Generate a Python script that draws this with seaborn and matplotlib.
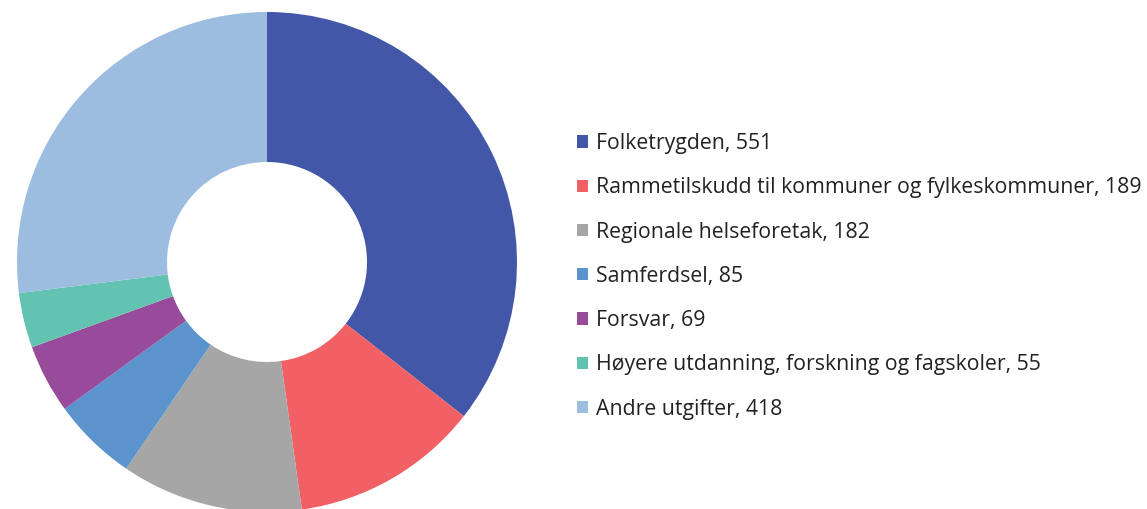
import matplotlib
matplotlib.use("Agg")
import matplotlib.pyplot as plt
from matplotlib.patches import Patch
import seaborn as sns

sns.set_theme(style="white")
plt.rcParams['font.family'] = ['Open Sans', 'DejaVu Sans']

categories = ["Folketrygden", "Rammetilskudd til kommuner og fylkeskommuner",
              "Regionale helseforetak", "Samferdsel", "Forsvar",
              "Høyere utdanning, forskning og fagskoler", "Andre utgifter"]
values = [551, 189, 182, 85, 69, 55, 418]
colors = ["#4257A7", "#F06065", "#A6A6A6", "#5B93CD", "#984B9A", "#62C4B0", "#9DBDE0"]

fig = plt.figure(figsize=(11.47, 5.09), dpi=100)
ax = fig.add_axes([(267 - 250) / 1147, (247 - 250) / 509, 500 / 1147, 500 / 509])
wedges, _ = ax.pie(values, colors=colors, startangle=90, counterclock=False,
                   wedgeprops=dict(width=0.6, edgecolor="none", linewidth=0))
for w in wedges:
    w.set_clip_on(False)
ax.set_xlim(-1, 1)
ax.set_ylim(-1, 1)
ax.set_aspect("equal")
ax.axis("off")

handles = [Patch(facecolor=c, edgecolor="none") for c in colors]
labels = [f"{c}, {v}" for c, v in zip(categories, values)]
fig.legend(handles, labels, loc="upper left", bbox_to_anchor=(577 / 1147, 1 - 133 / 509),
           frameon=False, fontsize=15.3, handlelength=0.5, handleheight=0.5,
           handletextpad=0.4, labelspacing=1.095, borderaxespad=0, borderpad=0,
           labelcolor="#222222")

fig.savefig("out.png", dpi=100, facecolor="white")
